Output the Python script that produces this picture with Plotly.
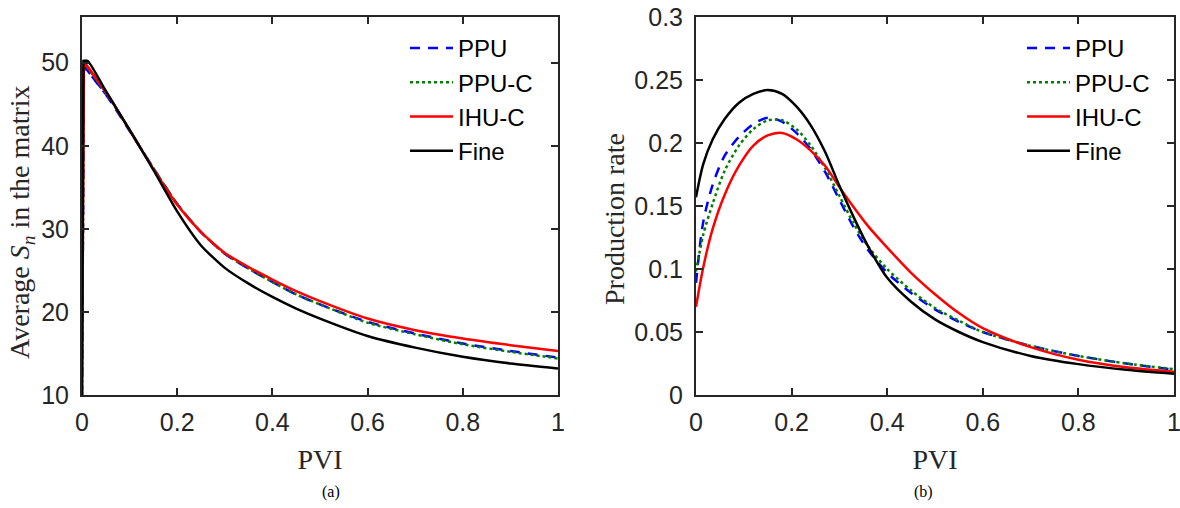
import plotly.graph_objects as go

# ---------------- data ----------------
# (a) Average S_n in the matrix vs PVI
pvi_a_fine = [0, 0.003, 0.012, 0.05, 0.1, 0.15, 0.2, 0.25, 0.3, 0.35, 0.4, 0.45, 0.5, 0.6, 0.7, 0.8, 0.9, 1.0]
sn_fine = [10, 50.2, 50.2, 46.6, 41.9, 37.1, 32.1, 28.0, 25.3, 23.4, 21.8, 20.4, 19.2, 17.1, 15.7, 14.6, 13.8, 13.2]

pvi_a = [0, 0.004, 0.05, 0.1, 0.15, 0.2, 0.25, 0.3, 0.35, 0.4, 0.45, 0.5, 0.6, 0.7, 0.8, 0.9, 1.0]
sn_ppu = [10, 49.6, 46.2, 41.8, 37.3, 33.0, 29.6, 27.0, 25.2, 23.6, 22.1, 20.9, 18.8, 17.4, 16.2, 15.3, 14.5]
sn_ppuc = [10, 50.0, 46.4, 41.9, 37.3, 33.0, 29.6, 27.0, 25.2, 23.6, 22.1, 20.9, 18.7, 17.3, 16.1, 15.2, 14.4]
sn_ihuc = [10, 50.1, 46.5, 41.9, 37.2, 32.9, 29.6, 27.1, 25.4, 23.9, 22.5, 21.3, 19.2, 17.8, 16.8, 16.0, 15.3]

# (b) Production rate vs PVI
pvi_b = [0, 0.015, 0.035, 0.06, 0.09, 0.12, 0.15, 0.18, 0.21, 0.24, 0.27, 0.3, 0.33, 0.36,
         0.4, 0.45, 0.5, 0.55, 0.6, 0.7, 0.8, 0.9, 1.0]
pr_fine = [0.157, 0.183, 0.203, 0.219, 0.232, 0.239, 0.242, 0.239, 0.229, 0.214, 0.193, 0.166,
           0.141, 0.118, 0.093, 0.074, 0.060, 0.050, 0.042, 0.031, 0.0245, 0.020, 0.0168]
pr_ppu = [0.089, 0.137, 0.167, 0.190, 0.205, 0.215, 0.220, 0.217, 0.208, 0.195, 0.177, 0.155,
          0.133, 0.115, 0.097, 0.081, 0.068, 0.058, 0.050, 0.039, 0.031, 0.025, 0.020]
pr_ppuc = [0.098, 0.127, 0.152, 0.178, 0.198, 0.211, 0.218, 0.218, 0.211, 0.198, 0.180, 0.158,
           0.136, 0.118, 0.100, 0.083, 0.069, 0.059, 0.050, 0.039, 0.031, 0.025, 0.0205]
pr_ihuc = [0.070, 0.101, 0.132, 0.159, 0.182, 0.198, 0.206, 0.208, 0.203, 0.194, 0.182, 0.165,
           0.149, 0.134, 0.117, 0.097, 0.080, 0.065, 0.053, 0.038, 0.028, 0.022, 0.0185]

names = ["PPU", "PPU-C", "IHU-C", "Fine"]
colors = ["#0000ff", "#008000", "#ff0000", "#000000"]
dashes = ["10px,8px", "3px,3px", "solid", "solid"]

x_ticks = [0, 0.2, 0.4, 0.6, 0.8, 1]
x_ticklabels = ["0", "0.2", "0.4", "0.6", "0.8", "1"]
ya_ticks = [10, 20, 30, 40, 50]
yb_ticks = [0, 0.05, 0.1, 0.15, 0.2, 0.25, 0.3]
yb_ticklabels = ["0", "0.05", "0.1", "0.15", "0.2", "0.25", "0.3"]

# ---------------- figure ----------------
fig = go.Figure()

left_x = [pvi_a, pvi_a, pvi_a, pvi_a_fine]
left_y = [sn_ppu, sn_ppuc, sn_ihuc, sn_fine]
right_y = [pr_ppu, pr_ppuc, pr_ihuc, pr_fine]

for i in range(4):
    # initial jump at PVI = 0 (straight), then the smooth decline
    fig.add_trace(go.Scatter(x=left_x[i][:3], y=left_y[i][:3], mode="lines", name=names[i],
                             line=dict(color=colors[i], width=2.5, dash=dashes[i]),
                             xaxis="x", yaxis="y", showlegend=False, hoverinfo="skip"))
    fig.add_trace(go.Scatter(x=left_x[i][1:], y=left_y[i][1:], mode="lines", name=names[i],
                             line=dict(color=colors[i], width=2.5, dash=dashes[i], shape="spline", smoothing=0.6),
                             xaxis="x", yaxis="y", legend="legend"))
for i in range(4):
    fig.add_trace(go.Scatter(x=pvi_b, y=right_y[i], mode="lines", name=names[i],
                             line=dict(color=colors[i], width=2.5, dash=dashes[i], shape="spline", smoothing=0.8),
                             xaxis="x2", yaxis="y2", legend="legend2"))

W, H = 1180, 508
axcol = "#262626"
tickfont = dict(family="Liberation Sans, Arial, sans-serif", size=25, color=axcol)
titlefont = dict(family="Liberation Serif, Times New Roman, serif", size=28, color=axcol)

common_ax = dict(showline=True, linecolor=axcol, linewidth=2, mirror="allticks",
                 ticks="inside", ticklen=7, tickwidth=2, tickcolor=axcol,
                 showgrid=False, zeroline=False, tickfont=tickfont, automargin=False,
                 ticklabeloverflow="allow")

y_lo = (H - 395) / H
y_hi = (H - 17) / H

legend_common = dict(font=dict(family="Liberation Sans, Arial, sans-serif", size=24, color="#000000"),
                     bgcolor="rgba(255,255,255,0)", borderwidth=0, xanchor="left", yanchor="top",
                     itemwidth=43, tracegroupgap=0)

capfont = dict(family="Liberation Serif, Times New Roman, serif", size=16, color="#000000")

fig.update_layout(
    width=W, height=H,
    margin=dict(l=0, r=0, t=0, b=0, autoexpand=False),
    paper_bgcolor="white", plot_bgcolor="white",
    xaxis=dict(domain=[82 / W, 558 / W], range=[0, 1], tickvals=x_ticks, ticktext=x_ticklabels,
               ticklabelstandoff=4,
               title=dict(text="PVI", font=titlefont, standoff=14), anchor="y", **common_ax),
    yaxis=dict(domain=[y_lo, y_hi], range=[10, 55.5], tickvals=ya_ticks, ticklabelstandoff=6,
               anchor="x", **common_ax),
    xaxis2=dict(domain=[696 / W, 1174 / W], range=[0, 1], tickvals=x_ticks, ticktext=x_ticklabels,
                ticklabelstandoff=4,
                title=dict(text="PVI", font=titlefont, standoff=14), anchor="y2", **common_ax),
    yaxis2=dict(domain=[y_lo, y_hi], range=[0, 0.3], tickvals=yb_ticks, ticktext=yb_ticklabels,
                ticklabelstandoff=6, anchor="x2", **common_ax),
    legend=dict(x=405 / W, y=1 - 26 / H, **legend_common),
    legend2=dict(x=1022 / W, y=1 - 26 / H, **legend_common),
    annotations=[
        dict(text="Average <i>S</i><sub><i>n</i></sub> in the matrix", textangle=-90,
             x=21 / W, y=1 - 222 / H, xref="paper", yref="paper", showarrow=False,
             xanchor="center", yanchor="middle", font=titlefont),
        dict(text="Production rate", textangle=-90,
             x=614 / W, y=1 - 219 / H, xref="paper", yref="paper", showarrow=False,
             xanchor="center", yanchor="middle", font=titlefont),
        dict(text="(a)", x=320 / W, y=1 - 492 / H, xref="paper", yref="paper", showarrow=False,
             yanchor="middle", font=capfont),
        dict(text="(b)", x=935 / W, y=1 - 492 / H, xref="paper", yref="paper", showarrow=False,
             yanchor="middle", font=capfont),
    ],
)

fig.write_html("out.html")
